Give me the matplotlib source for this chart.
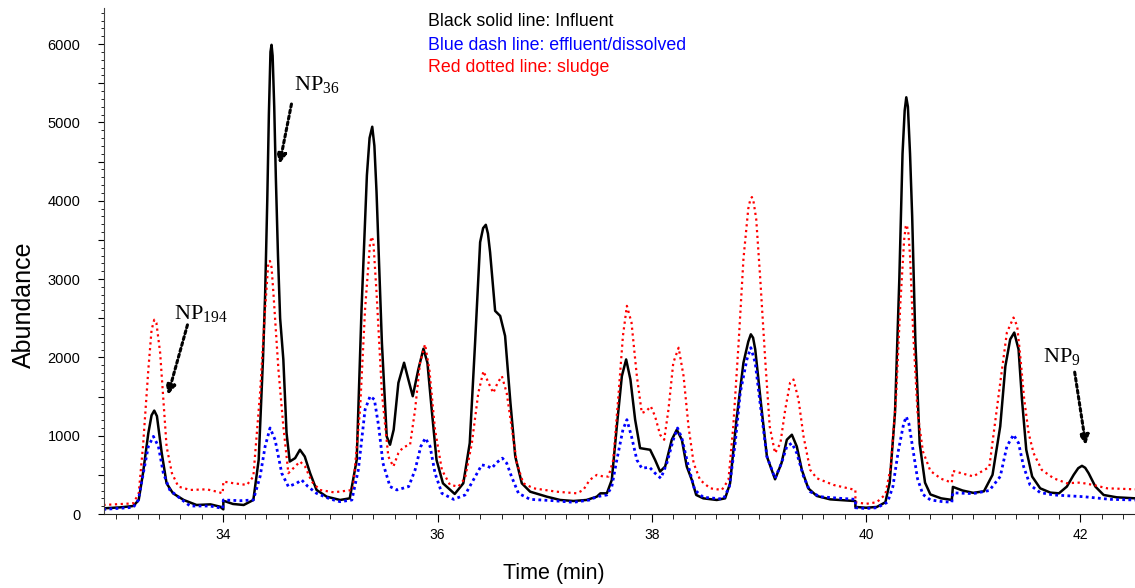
import matplotlib
matplotlib.use("Agg")
import matplotlib.pyplot as plt
from matplotlib.ticker import MultipleLocator, FuncFormatter

plt.rcParams['font.family'] = ['Liberation Sans', 'DejaVu Sans']
plt.rcParams['mathtext.fontset'] = 'custom'
plt.rcParams['mathtext.rm'] = 'Liberation Serif'

# Influent (black solid) - time (min), abundance
t_black = [32.88, 33.04, 33.16, 33.21, 33.25, 33.30, 33.33, 33.355, 33.38, 33.425, 33.47, 33.53,
           33.63, 33.75, 33.88, 33.97, 34.00, 34.00, 34.09, 34.19, 34.28, 34.33, 34.37,
           34.39, 34.41, 34.425, 34.44, 34.45, 34.46, 34.475, 34.49, 34.51, 34.53, 34.56,
           34.59, 34.62, 34.67, 34.715,
           34.76, 34.81, 34.87, 34.965, 35.09, 35.18, 35.245, 35.29, 35.34, 35.365, 35.39,
           35.41, 35.43,
           35.48, 35.525, 35.556, 35.59, 35.634, 35.687, 35.727, 35.768, 35.82, 35.868,
           35.905, 35.945, 35.99, 36.05, 36.16, 36.24, 36.30, 36.35, 36.397, 36.425, 36.45,
           36.47, 36.49,
           36.537, 36.584, 36.63, 36.68, 36.725, 36.786, 36.864, 37.02, 37.144, 37.268,
           37.39, 37.486, 37.52, 37.58, 37.626, 37.673, 37.72, 37.76, 37.80, 37.844, 37.89,
           37.984, 38.03, 38.077, 38.124, 38.186, 38.233, 38.28, 38.326, 38.373, 38.414,
           38.48, 38.606, 38.684, 38.73, 38.79, 38.855, 38.90, 38.924, 38.945, 38.965, 39.018,
           39.074,
           39.15, 39.21, 39.26, 39.307, 39.353, 39.40, 39.46, 39.54, 39.665, 39.85, 39.90,
           39.90, 40.00, 40.10, 40.18, 40.22, 40.27, 40.31, 40.34, 40.36, 40.375, 40.39,
           40.41, 40.43,
           40.46, 40.50, 40.55, 40.60, 40.70, 40.80, 40.81, 40.90, 41.00, 41.10, 41.18,
           41.252, 41.30, 41.345, 41.383, 41.423, 41.455, 41.495, 41.55, 41.625, 41.72,
           41.80, 41.874, 41.937, 41.98, 42.015, 42.045, 42.077, 42.14, 42.217, 42.34, 42.513]
y_black = [72, 85, 102, 179, 521, 1034, 1260, 1320, 1250, 777, 392, 264,
           179, 115, 123, 93, 59, 170, 128, 115, 179, 692, 1974,
           2800, 4000, 5100, 5900, 5990, 5850, 5200, 4300, 3300, 2500, 1974,
           1034, 670, 713, 820,
           734, 521, 307, 221, 179, 200, 691, 2615, 4324, 4800, 4944,
           4700, 4110,
           2187, 990, 884, 1076, 1674, 1931, 1717, 1504, 1845, 2110,
           1931, 1333, 691, 392, 256, 392, 905, 2187, 3470, 3650, 3692,
           3580, 3341,
           2593, 2529, 2273, 1418, 734, 392, 285, 221, 179, 166,
           179, 221, 264, 264, 435, 1119, 1760, 1973, 1717, 1204, 841,
           820, 691, 542, 606, 948, 1076, 948, 606, 435, 243,
           200, 179, 200, 392, 1204, 1931, 2200, 2294, 2250, 2102, 1418,
           734,
           443, 649, 948, 1012, 862, 563, 328, 230, 187, 170, 165,
           90, 80, 90, 150, 400, 1300, 3000, 4600, 5150, 5320, 5200,
           4600, 3800,
           2200, 900, 400, 250, 200, 180, 346, 300, 270, 290, 500,
           1119, 1888, 2230, 2316, 2102, 1461, 820, 478, 328, 273,
           264, 350, 499, 585, 615, 590, 521, 350, 243, 213, 200]

# Effluent / dissolved (blue)
t_blue = [32.88, 33.16, 33.207, 33.253, 33.30, 33.347, 33.394, 33.44, 33.50, 33.596, 33.69,
          33.876, 33.994, 34.00, 34.156, 34.28, 34.343, 34.39, 34.436, 34.483, 34.545,
          34.607, 34.685, 34.73, 34.79, 34.87, 35.00, 35.09, 35.20, 35.26, 35.323, 35.37,
          35.41, 35.45, 35.49, 35.556, 35.62, 35.73, 35.79, 35.843, 35.886, 35.93, 35.976,
          36.04, 36.15, 36.256, 36.334, 36.412, 36.46, 36.505, 36.552, 36.605, 36.645,
          36.69, 36.755, 36.864, 37.08, 37.268, 37.42, 37.486, 37.58, 37.626, 37.673,
          37.73, 37.767, 37.81, 37.86, 37.906, 37.978, 38.03, 38.084, 38.14, 38.20, 38.24,
          38.28, 38.342, 38.40, 38.48, 38.668, 38.724, 38.778, 38.825, 38.887, 38.924,
          38.965, 39.01, 39.074, 39.15, 39.21, 39.26, 39.307, 39.353, 39.416, 39.478,
          39.57, 39.76, 39.90, 39.90, 40.00, 40.10, 40.20, 40.25, 40.30, 40.35, 40.375,
          40.40, 40.44, 40.48, 40.53, 40.60, 40.70, 40.80, 40.81, 41.00, 41.15, 41.252,
          41.314, 41.376, 41.423, 41.47, 41.53, 41.625, 41.75, 42.03, 42.28, 42.513]
y_blue = [59, 85, 179, 521, 863, 991, 863, 521, 307, 200, 102,
          102, 72, 179, 170, 179, 478, 863, 1098, 948, 521,
          350, 393, 436, 350, 264, 190, 157, 179, 563, 1333, 1504,
          1461, 1119, 649, 350, 307, 350, 563, 862, 969, 862, 521,
          264, 187, 243, 435, 627, 614, 584, 657, 713, 649,
          478, 264, 187, 170, 149, 179, 221, 243, 350, 691,
          1076, 1204, 990, 691, 584, 597, 521, 456, 649, 948, 1098,
          969, 606, 307, 213, 191, 350, 905, 1546, 1973, 2123,
          1931, 1418, 734, 456, 649, 862, 905, 777, 478, 285,
          221, 200, 187, 80, 70, 80, 150, 350, 800, 1150, 1243,
          1150, 800, 450, 250, 180, 160, 150, 270, 260, 300, 478,
          863, 1012, 905, 606, 371, 273, 243, 221, 187, 179]

# Sludge (red dotted)
t_red = [32.88, 33.16, 33.21, 33.25, 33.30, 33.33, 33.355, 33.375, 33.41, 33.44, 33.47, 33.52,
         33.58, 33.69, 33.845, 33.94, 33.994, 34.00, 34.094, 34.22, 34.28, 34.343, 34.39,
         34.42, 34.435, 34.45, 34.467, 34.514, 34.56, 34.607, 34.654, 34.716, 34.763, 34.825,
         34.90, 35.03, 35.21, 35.276, 35.323, 35.37, 35.385, 35.40, 35.43, 35.48, 35.54, 35.587,
         35.634, 35.68, 35.743, 35.79, 35.836, 35.883, 35.923, 35.976, 36.04, 36.116,
         36.194, 36.256, 36.32, 36.38, 36.428, 36.475, 36.52, 36.56, 36.60, 36.645, 36.69,
         36.74, 36.80, 36.895, 37.11, 37.30, 37.36, 37.42, 37.486, 37.55, 37.595, 37.64,
         37.69, 37.73, 37.767, 37.81, 37.86, 37.906, 37.947, 37.99, 38.03, 38.077, 38.115,
         38.155, 38.20, 38.25, 38.296, 38.342, 38.39, 38.45, 38.544, 38.653, 38.715,
         38.76, 38.81, 38.855, 38.90, 38.92, 38.934, 38.95, 38.974, 39.01, 39.058, 39.10,
         39.15, 39.20,
         39.245, 39.29, 39.322, 39.369, 39.416, 39.478, 39.54, 39.696, 39.90, 39.90,
         40.00, 40.10, 40.18, 40.23, 40.28, 40.32, 40.355, 40.37, 40.38, 40.395, 40.41,
         40.44, 40.48,
         40.53, 40.60, 40.70, 40.80, 40.81, 41.00, 41.15, 41.252, 41.314, 41.376, 41.41,
         41.439, 41.476, 41.517, 41.563, 41.64, 41.75, 41.874, 42.00, 42.12, 42.25, 42.513]
y_red = [115, 136, 264, 863, 1846, 2350, 2480, 2440, 2059, 1461, 863, 521,
         350, 307, 315, 285, 264, 414, 393, 371, 478, 1547, 2615,
         3213, 3230, 3150, 2829, 1846, 1119, 521, 585, 670, 606, 414,
         307, 277, 307, 1333, 2615, 3470, 3540, 3480, 2828, 1546, 734, 606,
         777, 854, 884, 1333, 1931, 2166, 1845, 1076, 563, 371,
         350, 456, 905, 1546, 1824, 1674, 1546, 1674, 1760, 1546, 1119,
         649, 392, 328, 285, 264, 307, 435, 499, 478, 478, 691,
         1546, 2273, 2657, 2444, 1760, 1290, 1311, 1375, 1247, 1012, 948,
         1333, 1931, 2123, 1760, 1119, 649, 435, 328, 307, 435,
         1119, 2187, 3256, 3897, 4020, 4046, 3980, 3769, 3042, 1973, 1119,
         777, 905,
         1333, 1674, 1717, 1461, 990, 563, 456, 371, 307, 150,
         130, 150, 250, 600, 1500, 2700, 3500, 3670, 3692, 3580, 3300,
         2300, 1300,
         800, 550, 450, 400, 550, 480, 600, 1675, 2316, 2508, 2401,
         2017, 1461, 1034, 777, 563, 456, 393, 401, 371, 328, 315]

fig = plt.figure(figsize=(11.35, 5.88), dpi=100)
ax = fig.add_axes([104 / 1135, 74 / 588, 1031 / 1135, 506 / 588])

ax.plot(t_black, y_black, color='black', lw=1.8, solid_joinstyle='round')
ax.plot(t_red, y_red, color='#ff0000', lw=1.6, linestyle=(0, (1, 1.6)))
ax.plot(t_blue, y_blue, color='#0000ff', lw=2.0, linestyle=(0, (1, 1.2)))

ax.set_xlim(32.886, 42.51)
ax.set_ylim(0, 6460)

ax.spines['top'].set_visible(False)
ax.spines['right'].set_visible(False)
ax.spines['left'].set_color('#444444')
ax.spines['bottom'].set_color('#222222')

ax.xaxis.set_major_locator(MultipleLocator(2))
ax.xaxis.set_minor_locator(MultipleLocator(0.2))
ax.yaxis.set_major_locator(MultipleLocator(500))
ax.yaxis.set_minor_locator(MultipleLocator(100))
ax.yaxis.set_major_formatter(FuncFormatter(lambda v, p: '%d' % v if v % 1000 == 0 else ''))
ax.tick_params(axis='x', which='major', length=6, pad=4, labelsize=10)
ax.tick_params(axis='x', which='minor', length=3.5)
ax.tick_params(axis='y', which='major', length=4, pad=13, labelsize=10.5)
ax.tick_params(axis='y', which='minor', length=2)

ax.set_xlabel('Time (min)', fontsize=15.5)
ax.xaxis.set_label_coords(0.436, -0.097)
ax.set_ylabel('Abundance', fontsize=18)
ax.yaxis.set_label_coords(-0.066, 0.413)

fig.text(0.377, 1 - 22 / 588, 'Black solid line: Influent', color='black', fontsize=12.8, va='center')
fig.text(0.377, 1 - 45 / 588, 'Blue dash line: effluent/dissolved', color='#0000ff', fontsize=12.8, va='center')
fig.text(0.377, 1 - 68 / 588, 'Red dotted line: sludge', color='#ff0000', fontsize=12.8, va='center')

arrow = dict(arrowstyle='-|>', linestyle=(0, (1, 1)), lw=2.2, color='black', mutation_scale=14)
labels = [('NP$_{\\mathrm{194}}$', (33.54, 2487), (33.476, 1487), (33.672, 2449)),
          ('NP$_{\\mathrm{36}}$', (34.66, 5410), (34.52, 4436), (34.641, 5269)),
          ('NP$_{\\mathrm{9}}$', (41.65, 1936), (42.055, 846), (41.943, 1846))]
for txt, pos, head, tail in labels:
    ax.text(pos[0], pos[1], txt, fontsize=16, family='Liberation Serif', va='baseline', ha='left')
    ax.annotate('', xy=head, xytext=tail, arrowprops=arrow)

fig.savefig('out.png', dpi=100)
